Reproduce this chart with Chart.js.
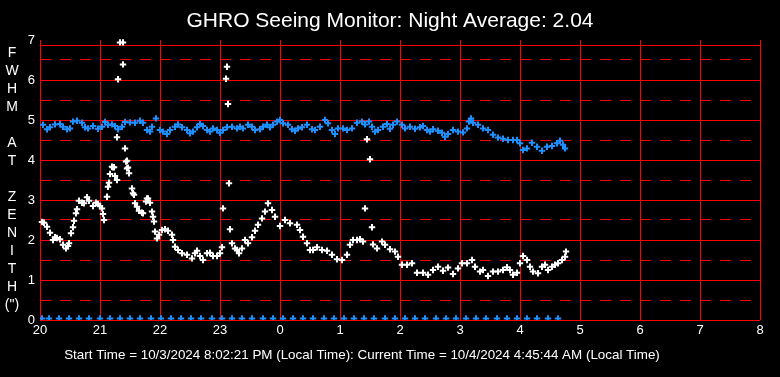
<!DOCTYPE html>
<html><head><meta charset="utf-8">
<script src="https://cdn.jsdelivr.net/npm/chart.js@4.4.0/dist/chart.umd.min.js"></script>
<style>html,body{margin:0;padding:0;background:#000;overflow:hidden}#wrap{width:780px;height:377px}</style>
</head><body><div id="wrap"><canvas id="c" width="780" height="377"></canvas></div>
<script>
const titleText = 'GHRO Seeing Monitor: Night Average: 2.04';
const footerText = 'Start Time = 10/3/2024 8:02:21 PM (Local Time): Current Time = 10/4/2024 4:45:44 AM (Local Time)';
const yAxisLetters = ['F','W','H','M','','A','T','','Z','E','N','I','T','H','(")'];
const hourLabels = ['20','21','22','23','0','1','2','3','4','5','6','7','8'];
const yTickLabels = ['0','1','2','3','4','5','6','7'];

// minutes after 20:00
const fwhmMinutes = [3,7,10,15,20,23,27,30,33,37,42,45,48,53,58,62,65,68,72,75,78,82,85,90,95,100,103,107,110,112,116,120,123,127,130,135,138,142,147,150,153,157,160,163,167,170,173,177,180,183,187,192,197,200,203,208,212,215,220,223,227,230,233,237,240,243,248,252,255,258,262,267,272,275,280,285,288,292,295,298,303,307,312,317,322,325,329,332,335,338,343,347,350,353,357,362,365,370,375,380,383,387,390,393,398,402,405,408,413,418,423,427,429,431,433,438,443,448,453,458,463,468,473,477,480,483,487,492,497,502,507,512,517,520,523,525];
const fwhmValues = [4.88,4.77,4.82,4.89,4.9,4.83,4.77,4.79,4.96,4.98,4.93,4.82,4.79,4.85,4.78,4.83,4.95,4.88,4.89,4.85,4.77,4.83,4.95,4.94,4.93,4.98,4.93,4.75,4.71,4.83,5.04,4.75,4.71,4.65,4.75,4.83,4.89,4.82,4.75,4.67,4.71,4.82,4.9,4.85,4.75,4.71,4.79,4.75,4.68,4.75,4.82,4.83,4.79,4.83,4.79,4.88,4.83,4.75,4.77,4.83,4.88,4.82,4.88,4.96,5.0,4.92,4.88,4.77,4.73,4.79,4.82,4.88,4.77,4.75,4.83,5.0,4.92,4.75,4.65,4.79,4.79,4.75,4.79,4.93,4.96,4.89,4.96,4.83,4.71,4.75,4.83,4.9,4.78,4.88,4.96,4.88,4.79,4.83,4.78,4.82,4.85,4.75,4.71,4.77,4.73,4.68,4.58,4.65,4.75,4.71,4.69,4.79,4.96,5.04,4.93,4.88,4.79,4.75,4.63,4.56,4.53,4.5,4.5,4.5,4.42,4.25,4.29,4.43,4.33,4.23,4.33,4.35,4.42,4.48,4.38,4.29];

const seeingMinutes = [2,4,7,10,13,15,17,20,23,26,28,29,31,33,34,36,37,39,42,44,47,49,53,56,58,60,62,63,64,67,68,69,70,72,73,74,75,77,77,78,80,83,83,85,86,87,87,88,89,92,93,94,95,97,99,102,103,106,107,108,110,112,113,114,115,117,119,122,125,128,132,133,135,138,142,147,152,155,157,160,163,167,170,173,177,180,182,183,186,187,188,189,190,192,195,197,199,202,205,208,212,215,218,222,225,228,232,235,240,245,250,257,260,263,267,270,273,277,282,287,292,297,302,307,310,313,317,320,323,325,327,330,332,333,337,342,345,350,355,358,362,367,372,377,383,388,393,398,403,408,413,418,422,427,432,435,440,443,448,453,458,463,467,470,473,477,480,483,487,490,493,498,502,505,508,512,515,518,522,525,526];
const seeingValues = [2.45,2.43,2.33,2.18,2.0,2.07,2.05,2.02,1.88,1.79,1.85,1.92,2.17,2.32,2.48,2.67,2.77,2.98,2.93,2.92,3.07,2.98,2.85,2.93,2.9,2.85,2.79,2.65,2.5,3.08,3.33,3.43,3.65,3.83,3.82,3.82,3.6,3.5,4.57,6.02,6.94,6.94,6.39,4.29,3.96,3.98,3.79,3.81,3.67,3.29,3.17,3.13,2.92,2.83,2.73,2.68,2.67,2.96,3.04,3.04,2.93,2.71,2.58,2.46,2.21,2.04,2.13,2.25,2.27,2.23,2.13,2.0,1.83,1.75,1.67,1.63,1.54,1.67,1.73,1.6,1.5,1.67,1.68,1.6,1.6,1.67,1.82,2.79,6.03,6.33,5.4,3.42,2.27,1.92,1.79,1.75,1.67,1.79,2.0,1.92,2.07,2.23,2.38,2.54,2.71,2.92,2.75,2.58,2.35,2.5,2.42,2.38,2.25,2.08,1.92,1.75,1.75,1.82,1.75,1.73,1.63,1.52,1.5,1.63,1.88,2.0,2.0,2.02,1.96,2.79,4.52,4.02,2.32,1.89,1.79,1.96,1.88,1.77,1.71,1.58,1.38,1.38,1.42,1.18,1.18,1.13,1.25,1.33,1.23,1.31,1.15,1.29,1.42,1.42,1.5,1.33,1.21,1.25,1.1,1.21,1.21,1.25,1.32,1.25,1.13,1.18,1.42,1.6,1.5,1.33,1.21,1.17,1.33,1.38,1.25,1.33,1.38,1.42,1.5,1.58,1.71];

const baseMinutes = [2,9,19,29,39,49,60,70,80,90,100,111,121,131,141,151,161,172,182,192,202,212,223,233,243,253,263,273,284,294,304,314,324,334,345,355,365,375,385,396,406,416,426,436,446,457,467,477,487,497,508,518];
const baseValues = [0.04,0.04,0.04,0.04,0.04,0.04,0.04,0.04,0.04,0.04,0.04,0.04,0.04,0.04,0.04,0.04,0.04,0.04,0.04,0.04,0.04,0.04,0.04,0.04,0.04,0.04,0.04,0.04,0.04,0.04,0.04,0.04,0.04,0.04,0.04,0.04,0.04,0.04,0.04,0.04,0.04,0.04,0.04,0.04,0.04,0.04,0.04,0.04,0.04,0.04,0.04,0.04];

const FONT = "'Liberation Sans', Arial, sans-serif";
const RED = '#ff0000';
const BLUE = '#1e90ff';
const toPts = (xs, ys) => xs.map((x, i) => ({x: x, y: ys[i]}));

const textPlugin = {
  id: 'texts',
  beforeDatasetsDraw(chart) {
    const {ctx, chartArea, scales} = chart;
    const y = Math.round(scales.y.getPixelForValue(6.875));
    ctx.save();
    ctx.fillStyle = RED;
    ctx.fillRect(chartArea.left, y, chartArea.right - chartArea.left + 1, 1);
    ctx.restore();
  },
  afterDraw(chart) {
    const ctx = chart.ctx;
    ctx.save();
    ctx.fillStyle = '#ffffff';
    ctx.textAlign = 'center';
    ctx.textBaseline = 'middle';
    ctx.font = '21px ' + FONT;
    ctx.fillText(titleText, 390, 21);
    ctx.font = '13.4px ' + FONT;
    ctx.fillText(footerText, 362, 355);
    ctx.font = '14px ' + FONT;
    yAxisLetters.forEach((ch, i) => { if (ch) ctx.fillText(ch, 12, 53.5 + 18 * i); });
    ctx.restore();
  }
};

const markerStyle = { pointStyle: 'cross', pointRadius: 3.2, pointBorderWidth: 2, pointHoverRadius: 3.2 };

new Chart(document.getElementById('c'), {
  type: 'scatter',
  data: {
    datasets: [
      Object.assign({ data: toPts(seeingMinutes, seeingValues), borderColor: '#ffffff', backgroundColor: '#ffffff', clip: false }, markerStyle),
      Object.assign({ data: toPts(fwhmMinutes, fwhmValues), borderColor: BLUE, backgroundColor: BLUE }, markerStyle),
      Object.assign({ data: toPts(baseMinutes, baseValues), borderColor: BLUE, backgroundColor: BLUE }, markerStyle)
    ]
  },
  options: {
    responsive: false, animation: false, devicePixelRatio: 1,
    layout: { padding: { top: 40, right: 20, left: 0, bottom: 0 } },
    plugins: { legend: { display: false }, title: { display: false }, tooltip: { enabled: false } },
    scales: {
      x: {
        type: 'linear', min: 0, max: 720,
        afterFit(s) { s.height = 57; },
        ticks: { stepSize: 60, autoSkip: false, maxRotation: 0, padding: 3, color: '#ffffff',
                 font: { family: FONT, size: 13 },
                 callback: (v) => hourLabels[Math.round(v / 60)] },
        grid: { color: RED, lineWidth: 1, drawTicks: false },
        border: { display: false }
      },
      y: {
        min: 0, max: 7,
        afterFit(s) { s.width = 40; },
        ticks: { stepSize: 0.5, autoSkip: false, padding: 5, color: '#ffffff',
                 font: { family: FONT, size: 13 },
                 callback: (v) => Number.isInteger(v) ? yTickLabels[v] : '' },
        grid: { lineWidth: 1, drawTicks: false,
                color: (c) => (c.tick && c.tick.value === 7) ? 'rgba(0,0,0,0)' : RED },
        border: { display: false,
                  dash: (c) => (c.tick && !Number.isInteger(c.tick.value)) ? [11, 9] : [] }
      }
    }
  },
  plugins: [textPlugin]
});
</script>
</body></html>
